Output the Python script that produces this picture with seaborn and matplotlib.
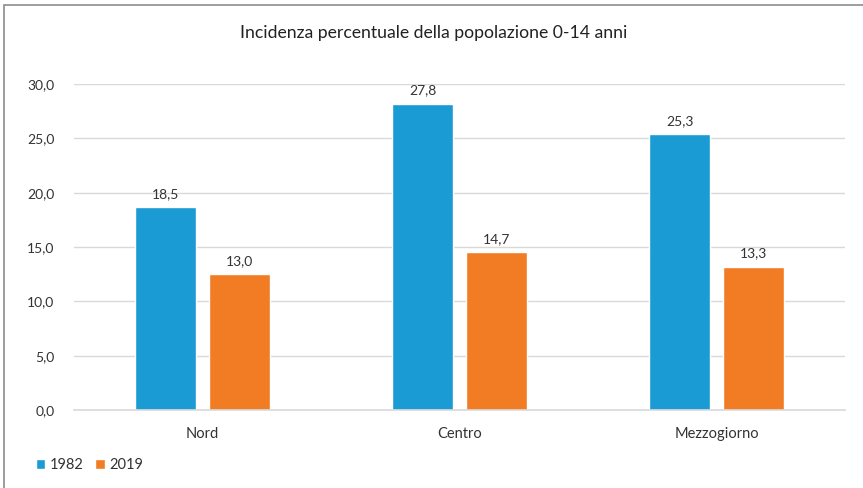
import matplotlib
matplotlib.use("Agg")
import matplotlib.pyplot as plt
import seaborn as sns
import pandas as pd
from matplotlib.patches import Rectangle

categories = ["Nord", "Centro", "Mezzogiorno"]
years = ["1982", "2019"]
values_1982 = [18.7, 28.2, 25.4]
values_2019 = [12.5, 14.5, 13.2]
labels_1982 = ["18,5", "27,8", "25,3"]
labels_2019 = ["13,0", "14,7", "13,3"]
yticks = [0, 5, 10, 15, 20, 25, 30]
ytick_labels = ["0,0", "5,0", "10,0", "15,0", "20,0", "25,0", "30,0"]
title = "Incidenza percentuale della popolazione 0-14 anni"

colors = {"1982": "#1a9bd4", "2019": "#f27c24"}

df = pd.DataFrame({
    "Area": categories * 2,
    "Anno": [years[0]] * 3 + [years[1]] * 3,
    "Valore": values_1982 + values_2019,
})

sns.set_theme(style="white")
plt.rcParams["font.family"] = ["Lato", "DejaVu Sans"]

fig = plt.figure(figsize=(8.63, 4.88), dpi=100)
ax = fig.add_axes([74 / 863, 1 - 410 / 488, (845 - 74) / 863, (410 - 84) / 488])

sns.barplot(data=df, x="Area", y="Valore", hue="Anno", order=categories,
            hue_order=years, palette=colors, width=0.576, gap=0.176,
            saturation=1, ax=ax, legend=True)

for cont, labs in zip(ax.containers, [labels_1982, labels_2019]):
    ax.bar_label(cont, labels=labs, padding=5, fontsize=10, color="#333333")

ax.set_ylim(0, 30)
ax.set_xlim(-0.5, 2.5)
ax.set_yticks(yticks)
ax.set_yticklabels(ytick_labels)
ax.set_xlabel("")
ax.set_ylabel("")
ax.grid(axis="y", color="#d9d9d9", linewidth=1)
ax.set_axisbelow(True)
for s in ["top", "right", "left"]:
    ax.spines[s].set_visible(False)
ax.spines["bottom"].set_color("#d9d9d9")
ax.spines["bottom"].set_linewidth(1.2)
ax.tick_params(axis="y", length=0, pad=14, labelsize=10, labelcolor="#333333")
ax.tick_params(axis="x", length=0, pad=12, labelsize=10.5, labelcolor="#333333")

leg = ax.legend(loc="lower left", bbox_to_anchor=(30 / 863, 10 / 488),
                bbox_transform=fig.transFigure, ncol=2, frameon=False,
                handlelength=0.65, handleheight=0.65, handletextpad=0.3,
                columnspacing=0.8, fontsize=10.5, borderaxespad=0)
for t in leg.get_texts():
    t.set_color("#333333")

fig.text(434 / 863, 1 - 33 / 488, title, ha="center", va="center",
         fontsize=12.7, color="#222222")

fig.patches.append(Rectangle((4 / 863, -0.1), 1.2, 1 - 5 / 488 + 0.1,
                             transform=fig.transFigure, fill=False,
                             edgecolor="#8c8c8c", linewidth=1.2))

fig.savefig("out.png", dpi=100)
